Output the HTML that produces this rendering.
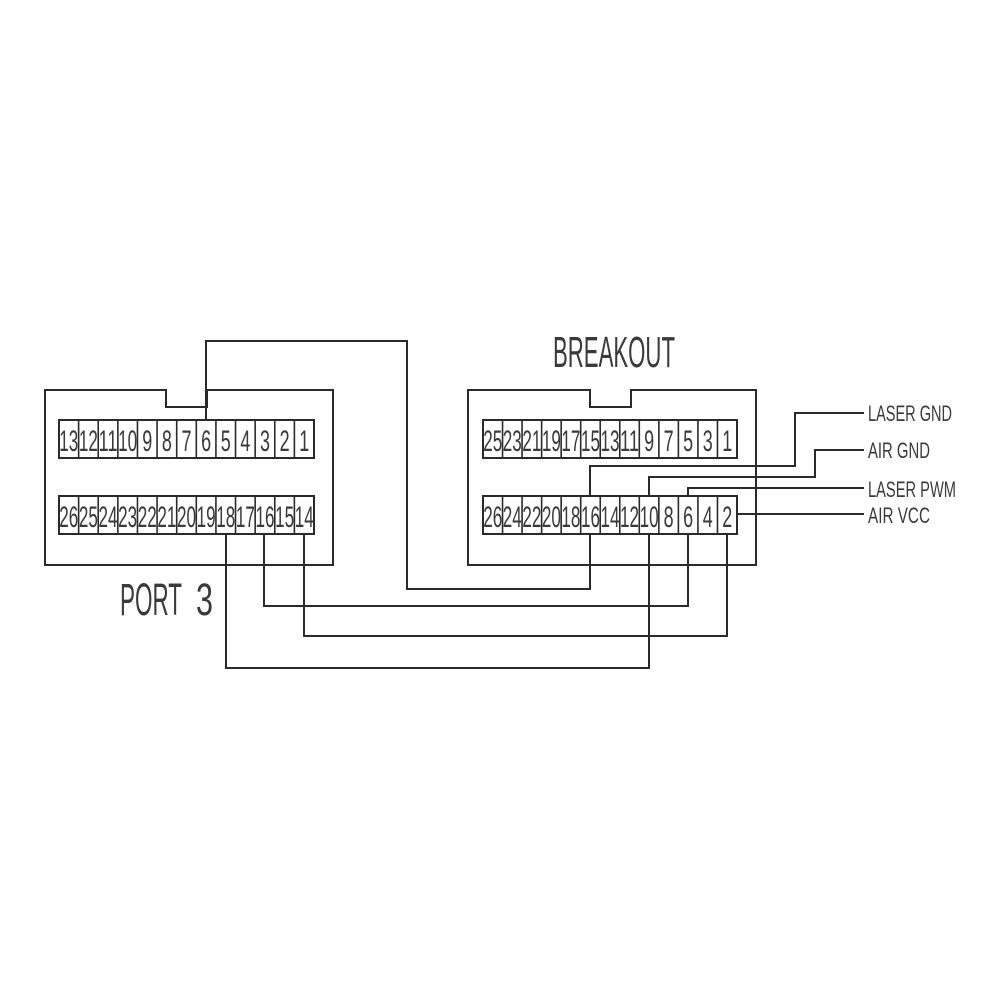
<!DOCTYPE html>
<html><head><meta charset="utf-8"><style>
html,body{margin:0;padding:0;background:#fff;}
svg{display:block;}
text{font-family:"Liberation Sans",sans-serif;fill:#3a3a3a;}
</style></head><body>
<svg width="1000" height="1000" viewBox="0 0 1000 1000" xmlns="http://www.w3.org/2000/svg">
<g fill="none" stroke="#2a2a2a" stroke-width="2">
<path d="M45,390 H166 V407 H207 V390 H333 V565 H45 Z"/>
<path d="M468,390 H590 V407 H631 V390 H756 V565 H468 Z"/>
<rect x="59" y="420" width="255" height="38"/>
<rect x="59" y="496" width="255" height="38"/>
<rect x="483" y="420" width="254" height="38"/>
<rect x="483" y="496" width="254" height="38"/>
</g>
<g stroke="#2a2a2a" stroke-width="1.6" id="dividers"></g>
<g fill="none" stroke="#2a2a2a" stroke-width="2">
<polyline points="206,420 206,341 407,341 407,589 590,589 590,534"/>
<polyline points="590,496 590,466 795,466 795,413 864,413"/>
<polyline points="649,496 649,477 815,477 815,450 864,450"/>
<polyline points="688,496 688,488 864,488"/>
<polyline points="737,514 864,514"/>
<polyline points="264,534 264,606 688,606 688,534"/>
<polyline points="304,534 304,636 727,636 727,534"/>
<polyline points="226,534 226,668 649,668 649,534"/>
</g>
<g id="nums" font-size="30"></g>
<text x="553" y="367" font-size="44" textLength="122" lengthAdjust="spacingAndGlyphs">BREAKOUT</text>
<text x="120" y="615" font-size="45" textLength="62" lengthAdjust="spacingAndGlyphs">PORT</text>
<text x="196" y="615" font-size="45" textLength="17" lengthAdjust="spacingAndGlyphs">3</text>
<g font-size="22">
<text x="868" y="421" textLength="84" lengthAdjust="spacingAndGlyphs">LASER GND</text>
<text x="868" y="458" textLength="62" lengthAdjust="spacingAndGlyphs">AIR GND</text>
<text x="868" y="497" textLength="88" lengthAdjust="spacingAndGlyphs">LASER PWM</text>
<text x="868" y="523" textLength="62" lengthAdjust="spacingAndGlyphs">AIR VCC</text>
</g>
<script>
(function(){
var ns="http://www.w3.org/2000/svg";
var dv=document.getElementById('dividers'),nm=document.getElementById('nums');
function row(x0,w,y,labels){
 var cw=w/13;
 for(var i=1;i<13;i++){var l=document.createElementNS(ns,'line');var x=x0+i*cw;
  l.setAttribute('x1',x);l.setAttribute('x2',x);l.setAttribute('y1',y);l.setAttribute('y2',y+38);dv.appendChild(l);}
 labels.forEach(function(s,i){var t=document.createElementNS(ns,'text');
  var len=s.length>1?19:10;var cx=x0+(i+0.5)*cw;
  t.setAttribute('x',cx-len/2);t.setAttribute('y',y+31);
  t.setAttribute('textLength',len);t.setAttribute('lengthAdjust','spacingAndGlyphs');
  t.textContent=s;nm.appendChild(t);});
}
row(59,255,420,['13','12','11','10','9','8','7','6','5','4','3','2','1']);
row(59,255,496,['26','25','24','23','22','21','20','19','18','17','16','15','14']);
row(483,254,420,['25','23','21','19','17','15','13','11','9','7','5','3','1']);
row(483,254,496,['26','24','22','20','18','16','14','12','10','8','6','4','2']);
})();
</script>
</svg>
</body></html>
